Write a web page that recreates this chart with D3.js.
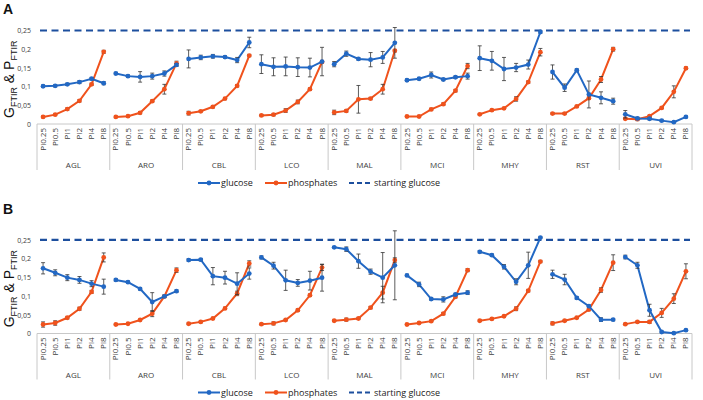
<!DOCTYPE html>
<html><head><meta charset="utf-8">
<script src="https://cdn.jsdelivr.net/npm/d3@7"></script>
<style>body{margin:0;background:#fff}svg{display:block;font-family:"Open Sans","Liberation Sans",sans-serif}</style>
</head><body>
<svg id="c" width="703" height="400"></svg>
<script>
const groups = ["AGL","ARO","CBL","LCO","MAL","MCI","MHY","RST","UVI"];
const cats = ["Pi0.25","Pi0.5","Pi1","Pi2","Pi4","Pi8"];
const yTicks = [0,0.05,0.1,0.15,0.2,0.25];
const yTickLabels = ["0","0,05","0,1","0,15","0,2","0,25"];
const startingGlucose = 0.25;

// Panel A values (per group, per category)
const glucoseA = [
  [0.101,0.102,0.106,0.112,0.121,0.109],
  [0.135,0.128,0.126,0.128,0.135,0.158],
  [0.174,0.178,0.181,0.179,0.171,0.218],
  [0.160,0.153,0.154,0.152,0.151,0.167],
  [0.160,0.188,0.174,0.172,0.178,0.217],
  [0.117,0.121,0.131,0.119,0.125,0.128],
  [0.176,0.169,0.147,0.151,0.159,0.246],
  [0.139,0.097,0.144,0.079,0.070,0.061],
  [0.026,0.015,0.014,0.009,0.005,0.019]
];
const glucoseErrA = [
  [0.003,0.003,0.003,0.004,0.003,0.004],
  [0.003,0.003,0.014,0.008,0.007,0.004],
  [0.024,0.006,0.005,0.003,0.007,0.014],
  [0.025,0.024,0.025,0.025,0.025,0.038],
  [0.007,0.007,0.003,0.019,0.016,0.041],
  [0.003,0.003,0.008,0.003,0.003,0.008],
  [0.033,0.025,0.031,0.011,0.012,0.003],
  [0.019,0.010,0.003,0.036,0.016,0.008],
  [0.010,0.003,0.003,0.002,0.002,0.002]
];
const phosA = [
  [0.019,0.025,0.040,0.062,0.106,0.193],
  [0.019,0.021,0.030,0.061,0.093,0.162],
  [0.029,0.034,0.046,0.068,0.102,0.183],
  [0.023,0.025,0.036,0.059,0.093,0.166],
  [0.031,0.035,0.066,0.068,0.093,0.196],
  [0.020,0.020,0.039,0.053,0.089,0.155],
  [0.026,0.037,0.042,0.067,0.112,0.192],
  [0.028,0.028,0.047,0.069,0.119,0.200],
  [0.014,0.013,0.021,0.043,0.086,0.149]
];
const phosErrA = [
  [0.002,0.002,0.003,0.003,0.003,0.004],
  [0.002,0.002,0.003,0.003,0.013,0.006],
  [0.005,0.002,0.003,0.003,0.003,0.003],
  [0.002,0.003,0.005,0.005,0.003,0.003],
  [0.006,0.003,0.037,0.003,0.013,0.003],
  [0.002,0.002,0.003,0.003,0.003,0.007],
  [0.002,0.002,0.002,0.006,0.003,0.010],
  [0.002,0.002,0.002,0.003,0.008,0.005],
  [0.002,0.004,0.002,0.002,0.016,0.003]
];
// Panel B values
const glucoseB = [
  [0.174,0.162,0.149,0.143,0.133,0.125],
  [0.143,0.137,0.119,0.084,0.099,0.113],
  [0.196,0.197,0.153,0.149,0.133,0.160],
  [0.203,0.181,0.142,0.135,0.141,0.149],
  [0.230,0.225,0.193,0.165,0.149,0.182],
  [0.155,0.131,0.092,0.091,0.104,0.109],
  [0.218,0.209,0.178,0.138,0.182,0.256],
  [0.158,0.144,0.095,0.073,0.037,0.037],
  [0.204,0.182,0.062,0.004,0.001,0.009]
];
const glucoseErrB = [
  [0.015,0.008,0.008,0.009,0.008,0.020],
  [0.003,0.003,0.003,0.025,0.003,0.003],
  [0.003,0.003,0.023,0.017,0.029,0.015],
  [0.004,0.009,0.027,0.009,0.025,0.036],
  [0.002,0.006,0.019,0.007,0.067,0.092],
  [0.003,0.006,0.003,0.007,0.003,0.005],
  [0.003,0.003,0.006,0.008,0.035,0.002],
  [0.011,0.014,0.003,0.003,0.005,0.003],
  [0.005,0.008,0.016,0.002,0.002,0.002]
];
const phosB = [
  [0.024,0.028,0.042,0.066,0.111,0.203],
  [0.024,0.026,0.036,0.053,0.099,0.169],
  [0.026,0.031,0.040,0.067,0.107,0.187],
  [0.025,0.027,0.036,0.062,0.102,0.176],
  [0.034,0.037,0.040,0.069,0.109,0.196],
  [0.024,0.028,0.033,0.053,0.098,0.169],
  [0.034,0.039,0.046,0.066,0.114,0.192],
  [0.027,0.034,0.042,0.064,0.116,0.189],
  [0.025,0.031,0.031,0.055,0.093,0.166]
];
const phosErrB = [
  [0.007,0.006,0.003,0.004,0.004,0.012],
  [0.002,0.002,0.002,0.008,0.003,0.006],
  [0.002,0.002,0.002,0.003,0.006,0.007],
  [0.002,0.004,0.002,0.003,0.003,0.008],
  [0.002,0.004,0.002,0.003,0.017,0.006],
  [0.002,0.002,0.002,0.003,0.003,0.004],
  [0.002,0.002,0.002,0.005,0.003,0.003],
  [0.004,0.002,0.002,0.003,0.006,0.021],
  [0.002,0.002,0.004,0.012,0.013,0.020]
];

const BLUE = "#2268c4", ORANGE = "#f0521c", NAVY = "#1d4f9e", GRID = "#c8c8c8", TXT = "#404040";
const svg = d3.select("#c");
const keys = [];
groups.forEach(g => cats.forEach(c => keys.push(g + "|" + c)));
const x = d3.scaleBand().domain(keys).range([37, 692]).padding(0);
const gx = d3.scaleBand().domain(groups).range([37, 692]).padding(0);

function panel(letter, zeroY, topY, glu, gluErr, pho, phoErr, offset) {
  const y = d3.scaleLinear().domain([0, 0.25]).range([zeroY, topY]);
  const g = svg.append("g");
  g.append("text").attr("x", 3).attr("y", offset + 14).attr("font-size", 14).attr("font-weight", "bold")
    .attr("font-family", "Liberation Sans, Arial, sans-serif").attr("fill", "#111").text(letter);
  // y axis tick labels
  const ya = d3.axisLeft(y).tickValues(yTicks).tickSize(0).tickPadding(0)
    .tickFormat((d, i) => yTickLabels[i]);
  const yg = g.append("g").attr("transform", "translate(31,0)").call(ya);
  yg.select(".domain").remove();
  yg.selectAll("text").attr("font-size", 7).attr("fill", TXT).attr("font-family", "Open Sans, sans-serif");
  // y label
  const yl = g.append("text").attr("transform", `translate(14,${(zeroY + topY) / 2 + 2}) rotate(-90)`)
    .attr("text-anchor", "middle").attr("font-size", 14).attr("fill", "#111").attr("font-family", "Liberation Sans, Arial, sans-serif");
  yl.append("tspan").text("G");
  yl.append("tspan").attr("font-size", 9).attr("dy", 2.5).text("FTIR");
  yl.append("tspan").attr("dy", -2.5).text(" & P");
  yl.append("tspan").attr("font-size", 9).attr("dy", 2.5).text("FTIR");
  // x baseline
  g.append("line").attr("x1", 37).attr("x2", 692).attr("y1", zeroY).attr("y2", zeroY).attr("stroke", GRID).attr("stroke-width", 1);
  // group separators
  const seps = groups.map(d => gx(d)).concat([692]);
  g.selectAll(".sep").data(seps).join("line").attr("x1", d => d).attr("x2", d => d)
    .attr("y1", zeroY).attr("y2", zeroY + 46).attr("stroke", GRID).attr("stroke-width", 1);
  // category labels
  const xa = d3.axisBottom(x).tickSize(0).tickFormat(d => d.split("|")[1]);
  const xg = g.append("g").attr("transform", `translate(0,${zeroY})`).call(xa);
  xg.select(".domain").remove();
  xg.selectAll("text").attr("transform", "rotate(-90)").attr("text-anchor", "end")
    .attr("x", -4).attr("y", 0).attr("dy", "0.32em").attr("font-size", 8).attr("fill", TXT).attr("font-family", "Open Sans, sans-serif");
  // group labels
  g.selectAll(".gl").data(groups).join("text").attr("x", d => gx(d) + gx.bandwidth() / 2).attr("y", zeroY + 44)
    .attr("text-anchor", "middle").attr("font-size", 8).attr("fill", TXT).attr("font-family", "Open Sans, sans-serif").text(d => d);
  // starting glucose line
  g.append("line").attr("x1", 40).attr("x2", 690).attr("y1", y(startingGlucose)).attr("y2", y(startingGlucose))
    .attr("stroke", NAVY).attr("stroke-width", 2.2).attr("stroke-dasharray", "7,4.5");
  const line = d3.line().x(d => x(d.k) + x.bandwidth() / 2).y(d => y(d.v));
  function series(vals, errs, color) {
    groups.forEach((grp, gi) => {
      const pts = cats.map((c, ci) => ({ k: grp + "|" + c, v: vals[gi][ci], e: errs[gi][ci] }));
      const sg = g.append("g");
      sg.append("path").datum(pts).attr("d", line).attr("fill", "none").attr("stroke", color).attr("stroke-width", 2);
      pts.forEach(p => {
        const cx = x(p.k) + x.bandwidth() / 2;
        const y1 = y(p.v - p.e), y2 = y(p.v + p.e);
        sg.append("line").attr("x1", cx).attr("x2", cx).attr("y1", y1).attr("y2", y2).attr("stroke", "#333").attr("stroke-width", 0.8);
        [y1, y2].forEach(yy => sg.append("line").attr("x1", cx - 2).attr("x2", cx + 2).attr("y1", yy).attr("y2", yy).attr("stroke", "#333").attr("stroke-width", 0.8));
      });
      sg.selectAll("circle").data(pts).join("circle").attr("cx", d => x(d.k) + x.bandwidth() / 2).attr("cy", d => y(d.v))
        .attr("r", 2.4).attr("fill", color);
    });
  }
  series(pho, phoErr, ORANGE);
  series(glu, gluErr, BLUE);
  // legend
  const ly = zeroY + 59;
  const lg = g.append("g").attr("font-size", 9).attr("fill", "#222").attr("font-family", "Open Sans, sans-serif");
  lg.append("line").attr("x1", 198).attr("x2", 220).attr("y1", ly).attr("y2", ly).attr("stroke", BLUE).attr("stroke-width", 2);
  lg.append("circle").attr("cx", 209).attr("cy", ly).attr("r", 2.4).attr("fill", BLUE);
  lg.append("text").attr("x", 221).attr("y", ly + 3.2).attr("fill", "#222").text("glucose");
  lg.append("line").attr("x1", 265).attr("x2", 287).attr("y1", ly).attr("y2", ly).attr("stroke", ORANGE).attr("stroke-width", 2);
  lg.append("circle").attr("cx", 276).attr("cy", ly).attr("r", 2.4).attr("fill", ORANGE);
  lg.append("text").attr("x", 288).attr("y", ly + 3.2).attr("fill", "#222").text("phosphates");
  lg.append("line").attr("x1", 349).attr("x2", 373).attr("y1", ly).attr("y2", ly).attr("stroke", NAVY).attr("stroke-width", 2).attr("stroke-dasharray", "5,3");
  lg.append("text").attr("x", 374).attr("y", ly + 3.2).attr("fill", "#222").text("starting glucose");
}
panel("A", 124, 30.5, glucoseA, glucoseErrA, phosA, phosErrA, 0);
panel("B", 333.5, 239.8, glucoseB, glucoseErrB, phosB, phosErrB, 200);
</script>
</body></html>
